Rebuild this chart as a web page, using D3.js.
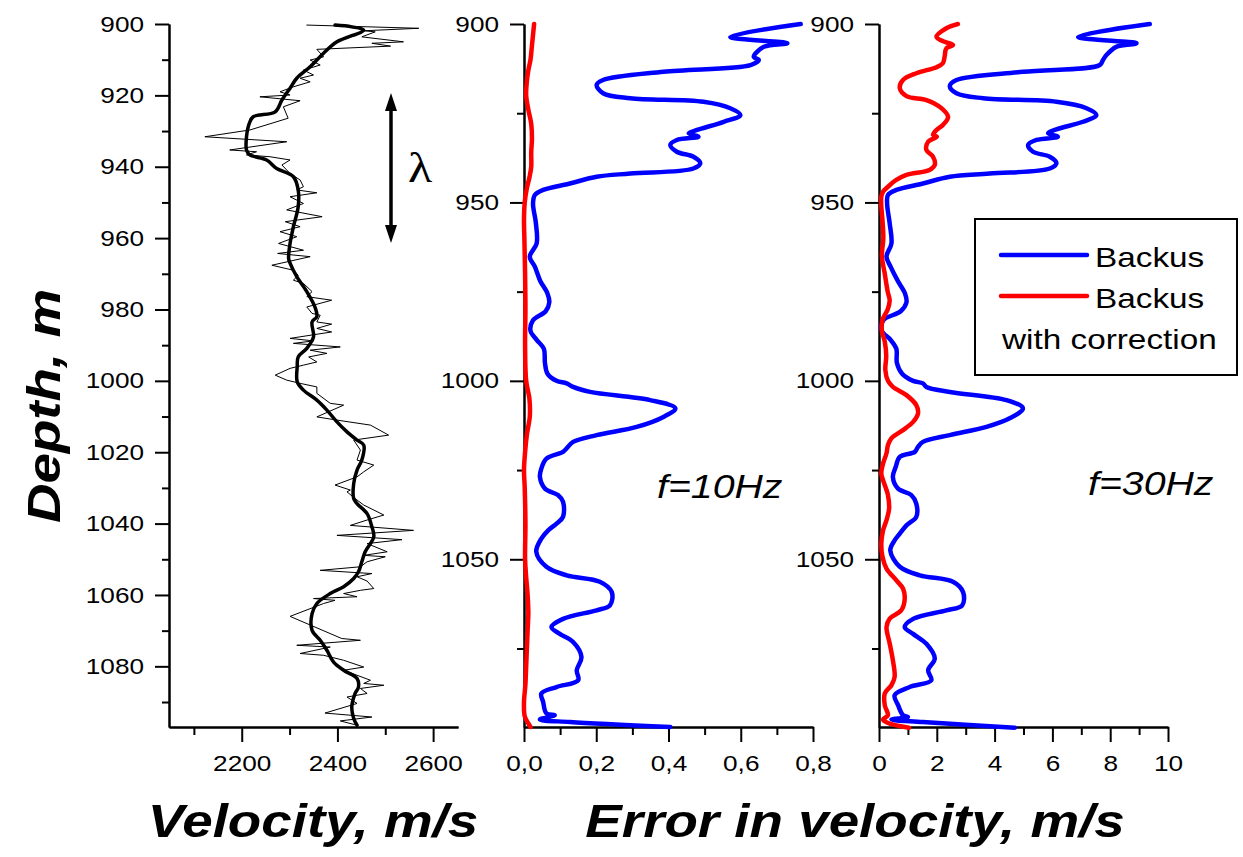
<!DOCTYPE html>
<html>
<head>
<meta charset="utf-8">
<script src="https://cdn.jsdelivr.net/npm/d3@7"></script>
<style>
  html, body { margin: 0; padding: 0; background: #fff; }
  svg { display: block; }
  text { font-family: "Liberation Sans", Arial, sans-serif; fill: #000; }
</style>
</head>
<body>
<svg id="chart" width="1243" height="857"></svg>
<script>
// ---------------- DATA ----------------
// Left panel: raw velocity log (thin) and smoothed (thick)
const velRawDepth = [900.3,901.2,901.9,902.2,903.6,905,905.4,906.2,907.1,909.2,910.1,911.5,912.9,914.3,915.2,916.2,917.6,919,919.9,920.4,921.5,923.2,926.4,929.7,931.6,933,935.3,935.8,936.7,937.2,938.1,939.5,941.9,943.7,945.6,946.5,947.3,948.4,950.3,952.1,954,955.4,956.8,958.2,959.6,961.5,963.4,964.3,965.2,967.6,969,970.4,971.8,972.7,975,976.4,977.4,979.3,981.1,981.6,983.5,984.1,985.3,986.3,988.1,988.8,989.5,990.5,991.4,992.3,993.3,994.7,995.6,996.5,998.4,999.8,1000.7,1001.7,1003.5,1006.3,1006.8,1010.1,1011,1012.4,1015.2,1016.6,1019.4,1022.2,1023.6,1025.5,1026.9,1029.2,1030.6,1031.1,1033.4,1034.8,1037.6,1039,1040.5,1041.9,1043.3,1044.5,1045.6,1047.9,1048.9,1049.3,1050.7,1052.1,1053.1,1054,1054.9,1056.1,1058.2,1058.7,1059.6,1060.5,1061,1061.5,1062.4,1066,1072.2,1072.7,1074.1,1074.6,1076.4,1076.9,1078.3,1080.2,1081.1,1083.9,1084.8,1085.3,1086.2,1087.6,1088.6,1090.4,1093.1,1094.2,1095.3,1096.5];
const velRawValue = [2336,2570,2455,2479,2451,2538,2472,2511,2357,2371,2343,2364,2329,2350,2322,2343,2308,2280,2301,2238,2322,2287,2297,2217,2123,2294,2175,2231,2210,2259,2301,2284,2301,2322,2329,2315,2357,2301,2329,2294,2368,2291,2322,2280,2315,2277,2329,2275,2343,2263,2308,2318,2308,2329,2347,2336,2388,2336,2347,2364,2357,2388,2357,2388,2301,2350,2308,2406,2343,2378,2340,2357,2329,2301,2270,2294,2322,2357,2357,2385,2413,2357,2399,2469,2507,2434,2448,2441,2476,2455,2441,2395,2427,2420,2441,2455,2497,2462,2427,2559,2399,2535,2462,2504,2455,2500,2462,2448,2364,2472,2441,2462,2476,2448,2413,2441,2350,2395,2371,2301,2409,2448,2315,2385,2322,2371,2413,2455,2413,2469,2455,2497,2448,2462,2420,2441,2374,2472,2406,2441];

const velSmoothDepth = [900.3,900.8,901.7,905,908.2,912,915.2,918,921.3,924.6,926,927.8,931.6,935.3,936.7,938.1,940.5,942.8,946.5,951.2,956.8,961.5,965.7,967,970.8,975,979.3,982,983.5,987.7,990.9,993.3,996,1000.3,1002.6,1005.4,1008.2,1011.5,1014.3,1016.6,1018,1022.2,1025,1028.8,1033,1034.4,1037.2,1040.9,1043.7,1047.9,1050.7,1053.5,1055.4,1057.7,1059.6,1062.4,1065.2,1069.9,1072.7,1075.5,1078.8,1081.1,1083.4,1085.8,1087.6,1091.4,1094.6,1096.5];
const velSmoothValue = [2395,2430,2455,2399,2371,2343,2315,2301,2284,2270,2224,2216,2210,2210,2217,2252,2273,2308,2318,2318,2308,2301,2298,2301,2315,2336,2353,2357,2347,2350,2336,2318,2316,2316,2329,2357,2378,2399,2420,2441,2455,2451,2441,2434,2434,2441,2462,2472,2476,2458,2451,2444,2434,2413,2385,2357,2347,2347,2364,2378,2392,2413,2441,2444,2437,2430,2434,2441];

// Middle panel: f = 10 Hz
const err10BackusDepth = [900,903.6,905.4,906.4,909.2,910.1,911.5,913.4,915.7,917.1,919.4,920.8,921.8,923.6,925.5,927.4,929.7,930.6,931.6,932.5,933.9,935.8,937.2,939,940.5,941.9,942.8,944.7,946.5,947.9,950.3,955.9,961.5,965.2,968,972,975.5,978,980.5,983,986,988.5,991,995,998,1000,1000.7,1001.7,1003.1,1005.4,1007.7,1010.1,1012.9,1015.2,1017.1,1018.9,1019.9,1021.8,1024.6,1026.9,1030.2,1032,1033.9,1038.1,1040,1041.9,1044.2,1047.9,1052.1,1054.5,1056.3,1059.2,1062.9,1064.3,1066.7,1069,1070.9,1073.2,1077.4,1081.1,1083.9,1085.8,1087.6,1090,1093.2,1093.7,1094.9,1095.6,1097];
const err10BackusValue = [0.766,0.571,0.729,0.664,0.636,0.65,0.627,0.386,0.219,0.201,0.219,0.294,0.497,0.571,0.599,0.553,0.479,0.456,0.483,0.423,0.405,0.423,0.469,0.488,0.469,0.294,0.201,0.127,0.053,0.030,0.025,0.033,0.035,0.016,0.03,0.045,0.065,0.07,0.06,0.025,0.018,0.035,0.055,0.058,0.065,0.09,0.118,0.136,0.183,0.349,0.419,0.386,0.312,0.201,0.136,0.118,0.108,0.062,0.048,0.044,0.058,0.094,0.108,0.108,0.090,0.067,0.048,0.034,0.062,0.118,0.210,0.243,0.238,0.201,0.108,0.076,0.099,0.136,0.159,0.146,0.15,0.09,0.048,0.053,0.062,0.085,0.044,0.127,0.405];

const err10CorrDepth = [900,903,906,910,913,916,920,924,928,932,936,940,943,946,950,955,960,970,980,990,1000,1005,1010,1015,1020,1025,1030,1040,1050,1055,1060,1065,1070,1075,1080,1085,1090,1094,1096,1097];
const err10CorrValue = [0.028,0.025,0.022,0.018,0.012,0.008,0.006,0.012,0.02,0.022,0.02,0.02,0.015,0.008,0.002,0.0,0.001,0.003,0.004,0.003,0.006,0.015,0.016,0.008,0.003,0.0,0.002,0.004,0.003,0.006,0.01,0.012,0.01,0.008,0.006,0.004,0.0,0.002,0.012,0.018];

// Right panel: f = 30 Hz
const err30BackusDepth = [900,903.6,905.4,906.4,908.7,910.1,911.5,913.4,915.7,917.4,919.4,920.8,921.8,923.6,925.5,927.4,929.5,930.6,931.6,932.5,933.9,935.8,937.2,939,940.5,941.9,942.8,944.7,946.5,947.9,950.3,955.9,961.5,965.2,968,972,975.5,978,980.5,983,986,988.5,991,995,998,1000,1000.7,1001.7,1003.1,1005.4,1007.7,1010.5,1012.9,1015.2,1017.1,1018.5,1019.9,1021.3,1024.1,1026.9,1030.2,1032,1034.4,1038.1,1040.5,1042.8,1044.7,1047.5,1052.1,1054.5,1056.3,1059.2,1062.9,1064.3,1066.7,1069,1070.9,1073.7,1077.8,1081.1,1083.9,1085.8,1088.1,1090.9,1093.7,1094.2,1094.9,1095.6,1097.2];
const err30BackusValue = [9.37,6.89,8.91,8.21,7.87,7.75,7.64,4.98,2.68,2.45,2.68,3.60,6.14,7.18,7.52,7.06,6.14,5.85,6.19,5.45,5.16,5.33,5.91,6.14,5.91,3.83,2.45,1.52,0.60,0.31,0.28,0.37,0.43,0.26,0.4,0.65,0.9,0.95,0.75,0.15,0.1,0.4,0.6,0.62,0.8,1.18,1.52,1.64,2.45,4.41,4.98,4.52,3.72,2.45,1.52,1.35,1.24,0.72,0.58,0.48,0.66,1.12,1.29,1.29,0.95,0.72,0.54,0.39,0.72,1.41,2.56,2.91,2.88,2.33,1.18,0.89,1.18,1.64,1.93,1.70,1.81,1.06,0.54,0.66,0.83,1.0,0.43,1.52,4.70];

const err30CorrDepth = [900,901.2,903.6,905,905.9,906.8,909.2,911,912.1,913.8,915.7,918,920.2,921.3,923.2,926,928.3,929.7,931.1,931.6,933,935.3,937.2,939.5,940.9,942.3,943.7,945.6,947,948.4,951,955,960,965,970,975,977.5,980,983,986,989,993,997,1000,1001.7,1004,1006.8,1009.1,1011.5,1013.8,1016.1,1018,1020.3,1023.2,1026,1027.8,1030.6,1032,1035.8,1039,1041.9,1045.6,1049.3,1052.6,1055.9,1058.2,1061,1064.3,1066.6,1069,1073.6,1078.3,1083,1085.3,1087.6,1090.9,1093.7,1094.9,1096,1097.2];
const err30CorrValue = [2.73,2.33,1.99,2.27,2.56,2.33,2.27,2.21,1.99,1.29,0.83,0.72,0.95,1.64,2.10,2.39,2.21,1.99,1.87,2.0,1.70,1.64,1.87,1.93,1.75,0.95,0.60,0.31,0.14,0.08,0.08,0.12,0.15,0.1,0.2,0.3,0.37,0.3,0.12,0.1,0.2,0.25,0.22,0.31,0.48,0.95,1.29,1.35,1.18,0.83,0.43,0.31,0.26,0.14,0.08,0.14,0.26,0.31,0.35,0.26,0.14,0.08,0.12,0.26,0.60,0.83,0.89,0.77,0.37,0.26,0.37,0.48,0.54,0.43,0.20,0.20,0.31,0.14,0.35,1.04];

// Ticks
const depthMajorLeft = [900,920,940,960,980,1000,1020,1040,1060,1080];
const depthMinorLeft = [910,930,950,970,990,1010,1030,1050,1070,1090];
const depthMajorRight = [900,950,1000,1050];
const depthMinorRight = [925,975,1025,1075];
const velMajor = [2200,2400,2600];
const velMinor = [2100,2300,2500];
const err10Major = [0,0.2,0.4,0.6,0.8];
const err10Labels = ["0,0","0,2","0,4","0,6","0,8"];
const err10Minor = [0.1,0.3,0.5,0.7];
const err30Major = [0,2,4,6,8,10];
const err30Labels = ["0","2","4","6","8","10"];
const err30Minor = [1,3,5,7,9];

const seriesNames = ["Backus", "Backus", "with correction"];

// ---------------- DRAW ----------------
const SX = 1.19; // horizontal stretch of all lettering in the original figure
const svg = d3.select("#chart");
const AX_Y = 727;
const y = d3.scaleLinear().domain([900, 1097]).range([24, AX_Y]);
const xVel = d3.scaleLinear().domain([2048, 2652]).range([169, 458]);
const x10 = d3.scaleLinear().domain([0, 0.8]).range([524, 813]);
const x30 = d3.scaleLinear().domain([0, 10]).range([879, 1168]);

function stretchText(sel) {
  sel.each(function () {
    const t = d3.select(this);
    const tx = +t.attr("x") || 0, ty = +t.attr("y") || 0;
    t.attr("x", null).attr("y", null).attr("transform", `translate(${tx},${ty}) scale(${SX},1)`);
  });
}

function styleAxis(g, showText) {
  g.selectAll("path.domain").attr("stroke", "#000").attr("stroke-width", 2);
  g.selectAll(".tick line").attr("stroke", "#000").attr("stroke-width", 2);
  g.selectAll(".tick text").style("font-size", "22px").style("font-family", '"Liberation Sans", Arial, sans-serif').attr("fill", "#000");
  if (!showText) g.selectAll(".tick text").remove();
  else stretchText(g.selectAll(".tick text"));
}

function leftAxis(xpos, major, minor) {
  const gMin = svg.append("g").attr("transform", `translate(${xpos},0)`)
    .call(d3.axisLeft(y).tickValues(minor).tickSize(7).tickSizeOuter(0).tickFormat(""));
  styleAxis(gMin, false);
  const gMaj = svg.append("g").attr("transform", `translate(${xpos},0)`)
    .call(d3.axisLeft(y).tickValues(major).tickSize(14).tickSizeOuter(0).tickPadding(11).tickFormat(d3.format("d")));
  styleAxis(gMaj, true);
}

function bottomAxis(scale, major, labels, minor) {
  const gMin = svg.append("g").attr("transform", `translate(0,${AX_Y})`)
    .call(d3.axisBottom(scale).tickValues(minor).tickSize(8).tickSizeOuter(0).tickFormat(""));
  styleAxis(gMin, false);
  const gMaj = svg.append("g").attr("transform", `translate(0,${AX_Y})`)
    .call(d3.axisBottom(scale).tickValues(major).tickSize(15).tickSizeOuter(0).tickPadding(13)
      .tickFormat((d, i) => labels[i]));
  styleAxis(gMaj, true);
}

leftAxis(xVel.range()[0], depthMajorLeft, depthMinorLeft);
leftAxis(x10.range()[0], depthMajorRight, depthMinorRight);
leftAxis(x30.range()[0], depthMajorRight, depthMinorRight);
bottomAxis(xVel, velMajor, velMajor.map(String), velMinor);
bottomAxis(x10, err10Major, err10Labels, err10Minor);
bottomAxis(x30, err30Major, err30Labels, err30Minor);

function drawLine(xs, depths, values, color, width, curve) {
  const pts = depths.map((d, i) => [d, values[i]]);
  const line = d3.line().x(p => xs(p[1])).y(p => y(p[0])).curve(curve);
  svg.append("path").datum(pts).attr("d", line)
    .attr("fill", "none").attr("stroke", color).attr("stroke-width", width)
    .attr("stroke-linejoin", "round").attr("stroke-linecap", "round");
}

const BLUE = "#0000ff", RED = "#ff0000";
drawLine(xVel, velRawDepth, velRawValue, "#000", 1, d3.curveLinear);
drawLine(xVel, velSmoothDepth, velSmoothValue, "#000", 3.5, d3.curveCatmullRom.alpha(0.5));
drawLine(x10, err10BackusDepth, err10BackusValue, BLUE, 4.5, d3.curveCatmullRom.alpha(0.5));
drawLine(x10, err10CorrDepth, err10CorrValue, RED, 4.5, d3.curveCatmullRom.alpha(0.5));
drawLine(x30, err30BackusDepth, err30BackusValue, BLUE, 4.5, d3.curveCatmullRom.alpha(0.5));
drawLine(x30, err30CorrDepth, err30CorrValue, RED, 4.5, d3.curveCatmullRom.alpha(0.5));

// helper for stretched free text
function label(x, yy, txt, size, opts = {}) {
  const t = svg.append("text")
    .attr("transform", `translate(${x},${yy}) ${opts.rotate ? "rotate(" + opts.rotate + ")" : ""} scale(${SX},1)`)
    .attr("text-anchor", opts.anchor || "start")
    .style("font-size", size + "px")
    .text(txt);
  if (opts.italic) t.style("font-style", "italic");
  if (opts.bold) t.style("font-weight", "bold");
  if (opts.family) t.style("font-family", opts.family);
  return t;
}

// lambda arrow
svg.append("line").attr("x1", 391).attr("x2", 391).attr("y1", 105).attr("y2", 231)
  .attr("stroke", "#000").attr("stroke-width", 3.5);
svg.append("path").attr("d", "M391,93 L397,111 L385,111 Z").attr("fill", "#000");
svg.append("path").attr("d", "M391,243 L397,225 L385,225 Z").attr("fill", "#000");
label(420, 182, "λ", 42, { anchor: "middle", family: '"Liberation Serif", "DejaVu Serif", serif' });

// frequency labels
label(657, 498, "f=10Hz", 33, { italic: true });
label(1088, 495, "f=30Hz", 33, { italic: true });

// axis titles
label(60, 406, "Depth, m", 46, { anchor: "middle", bold: true, italic: true, rotate: -90 });
label(313, 837, "Velocity, m/s", 46, { anchor: "middle", bold: true, italic: true });
label(855, 837, "Error in velocity, m/s", 46, { anchor: "middle", bold: true, italic: true });

// legend
svg.append("rect").attr("x", 975).attr("y", 219).attr("width", 262).attr("height", 156)
  .attr("fill", "#fff").attr("stroke", "#000").attr("stroke-width", 2);
svg.append("line").attr("x1", 1001).attr("x2", 1087).attr("y1", 255).attr("y2", 255)
  .attr("stroke", BLUE).attr("stroke-width", 4.5).attr("stroke-linecap", "round");
svg.append("line").attr("x1", 1001).attr("x2", 1087).attr("y1", 296).attr("y2", 296)
  .attr("stroke", RED).attr("stroke-width", 4.5).attr("stroke-linecap", "round");
label(1095, 267, seriesNames[0], 28);
label(1095, 308, seriesNames[1], 28);
label(1002, 349, seriesNames[2], 28);
</script>
</body>
</html>
